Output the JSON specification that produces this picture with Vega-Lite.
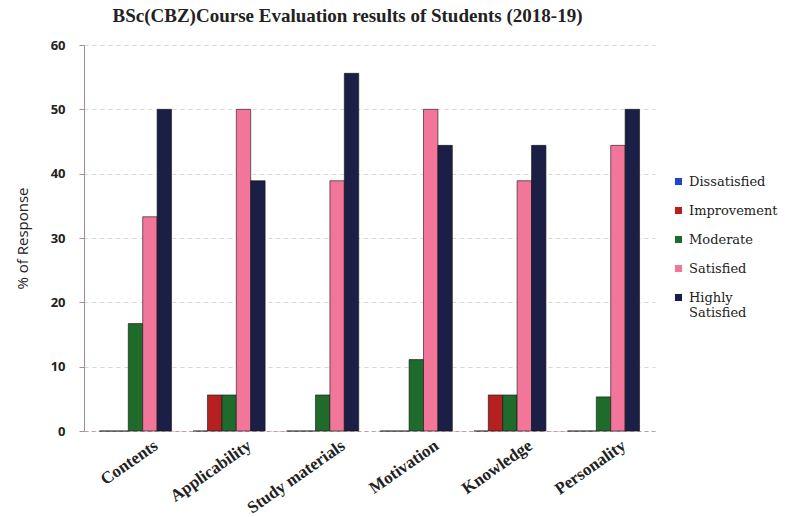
{
  "$schema": "https://vega.github.io/schema/vega-lite/v6.json",
  "autosize": "none",
  "width": 571,
  "height": 386,
  "padding": {"left": 84, "top": 45, "right": 132, "bottom": 86},
  "background": "white",
  "title": {
    "text": "BSc(CBZ)Course Evaluation  results of Students (2018-19)",
    "font": "Liberation Serif",
    "fontSize": 19,
    "fontWeight": "bold",
    "color": "#222",
    "anchor": "middle",
    "dx": -22,
    "offset": 13
  },
  "data": {
    "values": [
      {"aspect": "Contents", "rating": "Dissatisfied", "pct": 0},
      {"aspect": "Contents", "rating": "Improvement", "pct": 0},
      {"aspect": "Contents", "rating": "Moderate", "pct": 16.7},
      {"aspect": "Contents", "rating": "Satisfied", "pct": 33.3},
      {"aspect": "Contents", "rating": "Highly Satisfied", "pct": 50},
      {"aspect": "Applicability", "rating": "Dissatisfied", "pct": 0},
      {"aspect": "Applicability", "rating": "Improvement", "pct": 5.6},
      {"aspect": "Applicability", "rating": "Moderate", "pct": 5.6},
      {"aspect": "Applicability", "rating": "Satisfied", "pct": 50},
      {"aspect": "Applicability", "rating": "Highly Satisfied", "pct": 38.9},
      {"aspect": "Study materials", "rating": "Dissatisfied", "pct": 0},
      {"aspect": "Study materials", "rating": "Improvement", "pct": 0},
      {"aspect": "Study materials", "rating": "Moderate", "pct": 5.6},
      {"aspect": "Study materials", "rating": "Satisfied", "pct": 38.9},
      {"aspect": "Study materials", "rating": "Highly Satisfied", "pct": 55.6},
      {"aspect": "Motivation", "rating": "Dissatisfied", "pct": 0},
      {"aspect": "Motivation", "rating": "Improvement", "pct": 0},
      {"aspect": "Motivation", "rating": "Moderate", "pct": 11.1},
      {"aspect": "Motivation", "rating": "Satisfied", "pct": 50},
      {"aspect": "Motivation", "rating": "Highly Satisfied", "pct": 44.4},
      {"aspect": "Knowledge", "rating": "Dissatisfied", "pct": 0},
      {"aspect": "Knowledge", "rating": "Improvement", "pct": 5.6},
      {"aspect": "Knowledge", "rating": "Moderate", "pct": 5.6},
      {"aspect": "Knowledge", "rating": "Satisfied", "pct": 38.9},
      {"aspect": "Knowledge", "rating": "Highly Satisfied", "pct": 44.4},
      {"aspect": "Personality", "rating": "Dissatisfied", "pct": 0},
      {"aspect": "Personality", "rating": "Improvement", "pct": 0},
      {"aspect": "Personality", "rating": "Moderate", "pct": 5.3},
      {"aspect": "Personality", "rating": "Satisfied", "pct": 44.4},
      {"aspect": "Personality", "rating": "Highly Satisfied", "pct": 50}
    ]
  },
  "mark": {"type": "bar", "stroke": "#111", "strokeWidth": 0.6},
  "encoding": {
    "x": {
      "field": "aspect",
      "type": "nominal",
      "sort": null,
      "scale": {"paddingInner": 0.23, "paddingOuter": 0.165},
      "axis": {
        "title": null,
        "labelAngle": -35,
        "labelAlign": "right",
        "labelBaseline": "top",
        "labelFont": "Liberation Serif",
        "labelFontSize": 17,
        "labelFontWeight": "bold",
        "labelColor": "#222",
        "labelPadding": 6,
        "labelOffset": 16,
        "ticks": false,
        "domainColor": "#b9a0a8",
        "domainDash": [4, 3],
        "grid": false
      }
    },
    "xOffset": {
      "field": "rating",
      "type": "nominal",
      "sort": ["Dissatisfied", "Improvement", "Moderate", "Satisfied", "Highly Satisfied"],
      "scale": {"paddingInner": 0}
    },
    "y": {
      "field": "pct",
      "type": "quantitative",
      "scale": {"domain": [0, 60]},
      "axis": {
        "title": "% of Response",
        "titleFont": "Open Sans",
        "titleFontSize": 15,
        "titleFontWeight": "normal",
        "titleColor": "#222",
        "titlePadding": 20,
        "values": [0, 10, 20, 30, 40, 50, 60],
        "labelFont": "Open Sans",
        "labelFontSize": 13,
        "labelFontWeight": "bold",
        "labelColor": "#222",
        "labelPadding": 14,
        "tickSize": 5,
        "tickColor": "#999",
        "domainColor": "#a88894",
        "gridColor": "#e3c8cf",
        "gridDash": [4, 4],
        "gridOpacity": 0.9
      }
    },
    "color": {
      "field": "rating",
      "type": "nominal",
      "sort": ["Dissatisfied", "Improvement", "Moderate", "Satisfied", "Highly Satisfied"],
      "scale": {
        "domain": ["Dissatisfied", "Improvement", "Moderate", "Satisfied", "Highly Satisfied"],
        "range": ["#1f45c8", "#b52020", "#1e6b2c", "#f2769a", "#1b1f45"]
      },
      "legend": {
        "title": null,
        "orient": "none",
        "legendX": 588,
        "legendY": 130,
        "symbolType": "square",
        "symbolSize": 50,
        "symbolStrokeWidth": 0,
        "labelFont": "DejaVu Serif",
        "labelFontSize": 13,
        "labelColor": "#222",
        "rowPadding": 15,
        "labelLimit": 110,
        "labelExpr": "datum.label == 'Highly Satisfied' ? ['Highly', 'Satisfied'] : datum.label"
      }
    }
  },
  "config": {
    "view": {"stroke": null},
    "legend": {"labelFont": "DejaVu Serif"}
  }
}
